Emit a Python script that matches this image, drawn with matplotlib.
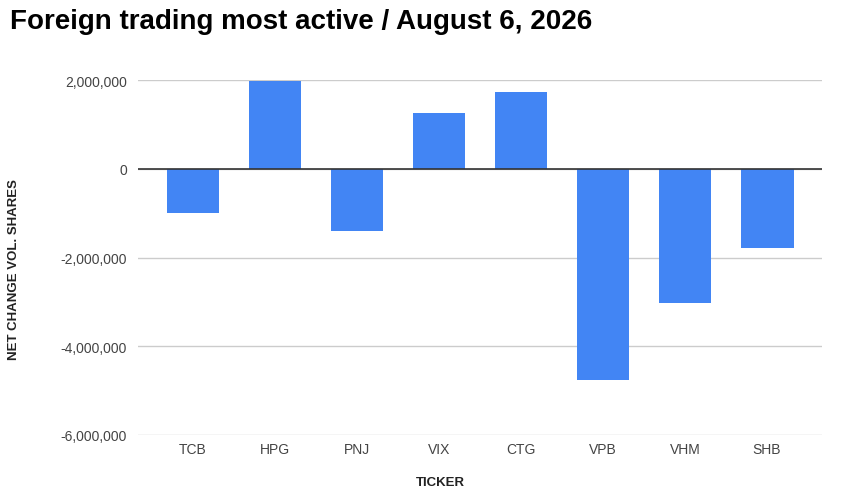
import matplotlib
matplotlib.use("Agg")
import matplotlib.pyplot as plt
from matplotlib.ticker import FuncFormatter

tickers = ["TCB", "HPG", "PNJ", "VIX", "CTG", "VPB", "VHM", "SHB"]
net_change = [-990000, 1980000, -1410000, 1260000, 1720000, -4760000, -3030000, -1790000]
y_ticks = [-6000000, -4000000, -2000000, 0, 2000000]

plt.rcParams['font.family'] = ['Liberation Sans', 'DejaVu Sans']

fig = plt.figure(figsize=(8.52, 5.02), dpi=100)
ax = fig.add_axes([138/852, 66/502, 684/852, 355/502])

x = list(range(len(tickers)))
ax.bar(x, net_change, width=0.645, color="#4285F4", zorder=3)
ax.set_xlim(-0.67, len(tickers) - 1 + 0.67)
ax.set_ylim(-6000000, 2000000)
ax.set_yticks(y_ticks)
ax.yaxis.set_major_formatter(FuncFormatter(lambda v, p: f"{int(v):,}"))
ax.set_xticks(x)
ax.set_xticklabels(tickers)
ax.grid(axis='y', color="#cccccc", linewidth=1, zorder=0)
ax.axhline(0, color="#333333", linewidth=1.2, zorder=4)
for s in ax.spines.values():
    s.set_visible(False)
ax.tick_params(axis='both', length=0, labelsize=10, labelcolor="#444444")
ax.tick_params(axis='y', pad=8)
ax.tick_params(axis='x', pad=5)

fig.text(10/852, 1 - 22/502, "Foreign trading most active / August 6, 2026",
         fontsize=20, fontweight='bold', ha='left', va='center', color='#000000')
fig.text(14/852, 1 - 270/502, "NET CHANGE VOL. SHARES", rotation=90,
         fontsize=9.5, fontweight='bold', ha='center', va='center', color='#222222')
fig.text(440/852, 1 - 483/502, "TICKER", fontsize=9.5, fontweight='bold',
         ha='center', va='center', color='#222222')

fig.savefig("out.png", dpi=100)
